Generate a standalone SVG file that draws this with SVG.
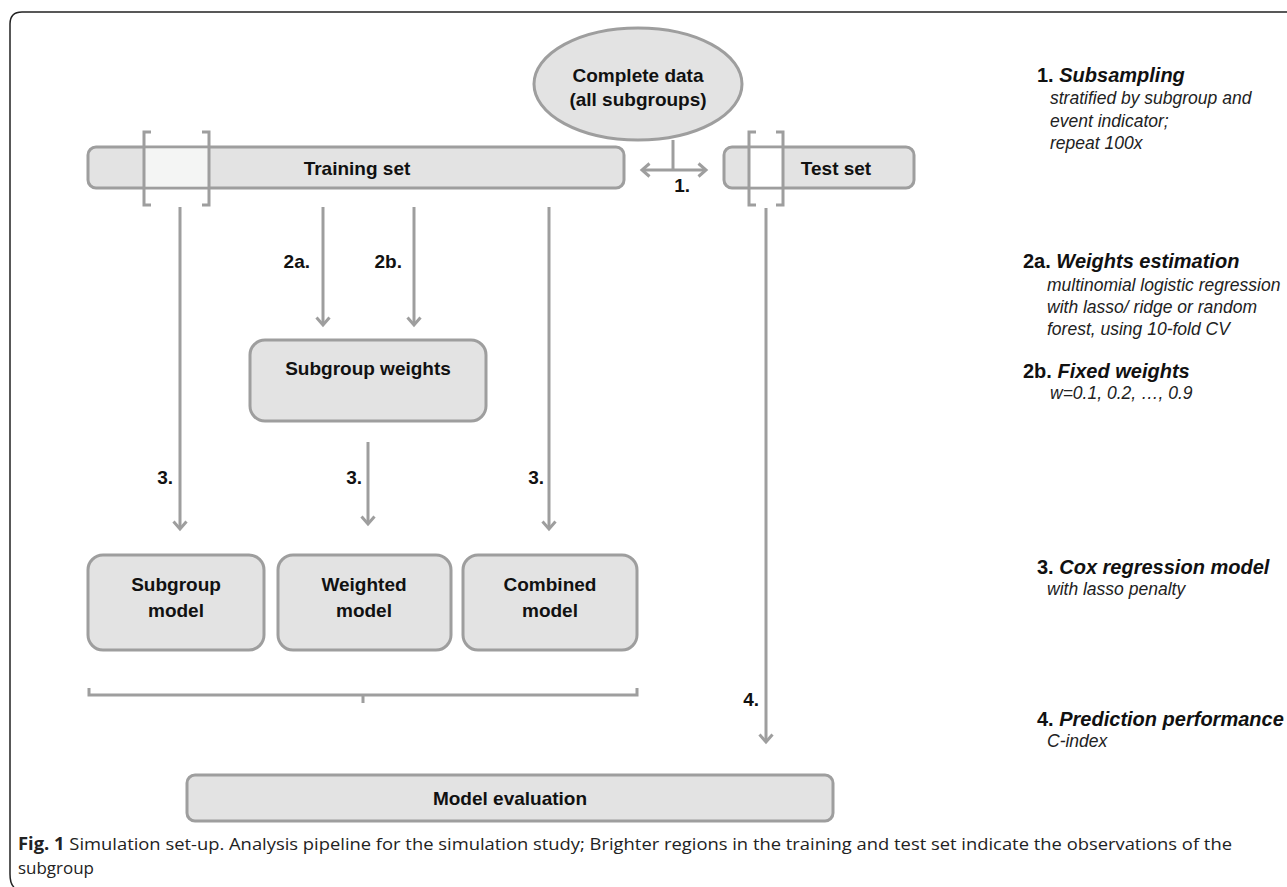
<svg xmlns="http://www.w3.org/2000/svg" width="1287" height="887" viewBox="0 0 1287 887">
<defs>
<style>
.box{fill:#e3e3e3;stroke:#9e9e9e;stroke-width:3}
.br{fill:none;stroke:#9e9e9e;stroke-width:3}
.ln{fill:none;stroke:#9e9e9e;stroke-width:3}
.t{font-family:"Liberation Sans",Arial,sans-serif;font-weight:bold;font-size:19px;fill:#111;text-anchor:middle}
.lb{font-family:"Liberation Sans",Arial,sans-serif;font-weight:bold;font-size:19px;fill:#111;text-anchor:end}
.h{font-family:"Liberation Sans",Arial,sans-serif;font-weight:bold;font-size:20px;fill:#111}
.hi{font-style:italic}
.s{font-family:"Liberation Sans",Arial,sans-serif;font-style:italic;font-size:17.5px;fill:#222}
.cap{font-family:"Open Sans","Noto Sans",sans-serif;font-size:17px;fill:#222}
</style>
<marker id="ah" viewBox="0 0 16 16" refX="9" refY="8" markerWidth="16" markerHeight="16" markerUnits="userSpaceOnUse" orient="auto-start-reverse">
<path d="M1.5,1.5 L9,8 L1.5,14.5" fill="none" stroke="#9e9e9e" stroke-width="3"/>
</marker>
</defs>
<rect width="1287" height="887" fill="#fff"/>
<path d="M1287,12 H22 Q10,12 10,24 V874 Q10,884 14,887" fill="none" stroke="#222" stroke-width="1.5"/>

<g id="complete">
<ellipse cx="638" cy="84" rx="104" ry="56" class="box"/>
<text class="t" x="638" y="82">Complete data</text>
<text class="t" x="638" y="106">(all subgroups)</text>
</g>

<g id="training">
<rect x="88" y="147" width="536" height="41" rx="8" class="box"/>
<rect x="144" y="148.5" width="65" height="38" fill="#f4f5f4"/>
<path class="br" d="M151,132 H144 V205 H151 M202,132 H209 V205 H202"/>
<text class="t" x="357" y="175">Training set</text>
</g>

<g id="test">
<rect x="724" y="147" width="190" height="41" rx="8" class="box"/>
<rect x="749" y="148.5" width="34" height="38" fill="#fff"/>
<path class="br" d="M756,132 H749 V205 H756 M776,132 H783 V205 H776"/>
<text class="t" x="836" y="175">Test set</text>
</g>

<g id="weights">
<rect x="250" y="340" width="236" height="81" rx="15" class="box"/>
<text class="t" x="368" y="375">Subgroup weights</text>
</g>

<g id="subgroup-model">
<rect x="88" y="555" width="176" height="95" rx="15" class="box"/>
<text class="t" x="176" y="591">Subgroup</text>
<text class="t" x="176" y="617">model</text>
</g>
<g id="weighted-model">
<rect x="278" y="555" width="173" height="95" rx="15" class="box"/>
<text class="t" x="364" y="591">Weighted</text>
<text class="t" x="364" y="617">model</text>
</g>
<g id="combined-model">
<rect x="463" y="555" width="174" height="95" rx="15" class="box"/>
<text class="t" x="550" y="591">Combined</text>
<text class="t" x="550" y="617">model</text>
</g>

<g id="evaluation">
<rect x="187" y="775" width="646" height="46" rx="8" class="box"/>
<text class="t" x="510" y="805">Model evaluation</text>
</g>

<g id="connectors">
<path class="ln" d="M673,140 V170"/>
<path class="ln" d="M642,170 H706" marker-start="url(#ah)" marker-end="url(#ah)"/>
<path class="ln" d="M180,207 V529" marker-end="url(#ah)"/>
<path class="ln" d="M323,207 V325" marker-end="url(#ah)"/>
<path class="ln" d="M414,207 V325" marker-end="url(#ah)"/>
<path class="ln" d="M549,207 V529" marker-end="url(#ah)"/>
<path class="ln" d="M368,442 V524" marker-end="url(#ah)"/>
<path class="ln" d="M766,208 V742" marker-end="url(#ah)"/>
<path class="br" d="M89,688 V695 H637 V688 M363,695 V703"/>
<text class="lb" x="690" y="192">1.</text>
<text class="lb" x="310" y="268">2a.</text>
<text class="lb" x="402" y="268">2b.</text>
<text class="lb" x="173" y="484">3.</text>
<text class="lb" x="362" y="484">3.</text>
<text class="lb" x="544" y="484">3.</text>
<text class="lb" x="759" y="706">4.</text>
</g>

<g id="legend">
<text class="h" x="1037" y="82">1. <tspan class="hi">Subsampling</tspan></text>
<text class="s" x="1050" y="104">stratified by subgroup and</text>
<text class="s" x="1050" y="127">event indicator;</text>
<text class="s" x="1050" y="149">repeat 100x</text>
<text class="h" x="1023" y="268">2a. <tspan class="hi">Weights estimation</tspan></text>
<text class="s" x="1047" y="291">multinomial logistic regression</text>
<text class="s" x="1047" y="313">with lasso/ ridge or random</text>
<text class="s" x="1047" y="335">forest, using 10-fold CV</text>
<text class="h" x="1023" y="378">2b. <tspan class="hi">Fixed weights</tspan></text>
<text class="s" x="1050" y="399">w=0.1, 0.2, …, 0.9</text>
<text class="h" x="1037" y="574">3. <tspan class="hi">Cox regression model</tspan></text>
<text class="s" x="1047" y="595">with lasso penalty</text>
<text class="h" x="1037" y="726">4. <tspan class="hi">Prediction performance</tspan></text>
<text class="s" x="1047" y="747">C-index</text>
</g>

<g id="caption">
<text class="cap" x="18" y="850" textLength="1214" lengthAdjust="spacingAndGlyphs"><tspan font-weight="bold">Fig. 1</tspan>  Simulation set-up. Analysis pipeline for the simulation study; Brighter regions in the training and test set indicate the observations of the</text>
<text class="cap" x="18" y="874" textLength="76" lengthAdjust="spacingAndGlyphs">subgroup</text>
</g>
</svg>
